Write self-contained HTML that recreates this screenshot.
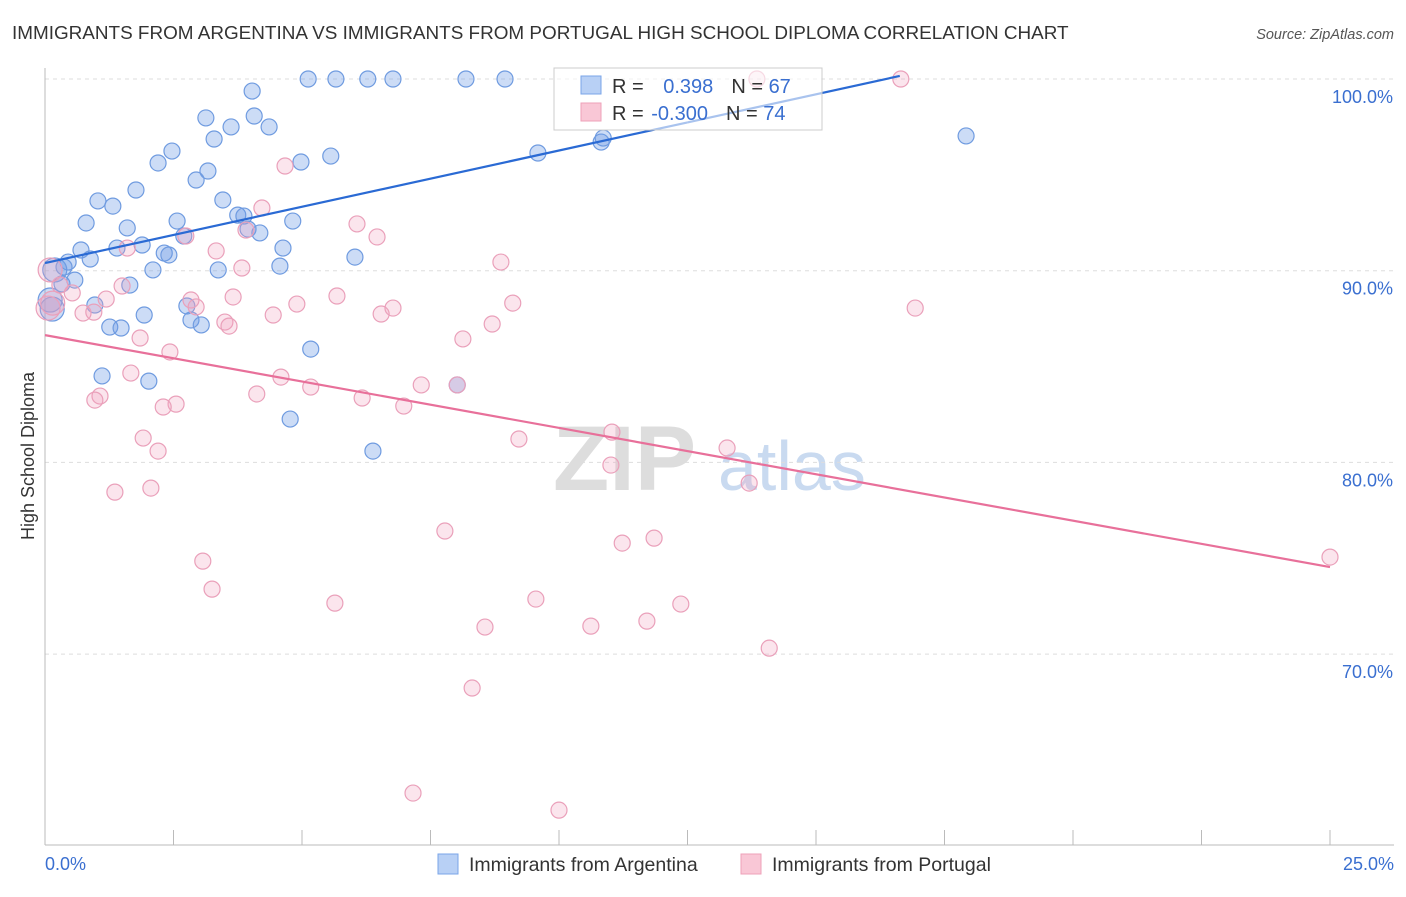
<!DOCTYPE html>
<html><head><meta charset="utf-8"><style>
body{margin:0;background:#fff;font-family:"Liberation Sans",sans-serif;}
svg text{font-family:"Liberation Sans",sans-serif;}
</style></head><body>
<svg width="1406" height="892" viewBox="0 0 1406 892" xmlns="http://www.w3.org/2000/svg" id="chart">
<text x="12" y="39" font-size="18.9" fill="#333">IMMIGRANTS FROM ARGENTINA VS IMMIGRANTS FROM PORTUGAL HIGH SCHOOL DIPLOMA CORRELATION CHART</text>
<text x="1394" y="39" font-size="14.5" fill="#555" text-anchor="end" font-style="italic">Source: ZipAtlas.com</text>
<text transform="translate(34,456) rotate(-90)" font-size="18" fill="#333" text-anchor="middle">High School Diploma</text>
<g><text x="553" y="490" font-size="92" fill="#ddd" font-family="Liberation Serif" font-weight="bold">ZIP</text><text x="718" y="490" font-size="70" fill="#c9daf0">atlas</text></g>
<g id="grid"></g><g id="marks"></g><g id="lines"></g>
<g>
<rect x="554" y="68" width="268" height="62" fill="#fff" fill-opacity="0.6" stroke="#ccc"/>
<rect x="581" y="76" width="20" height="18" fill="#b8d0f5" stroke="#7aa5e8"/>
<rect x="581" y="103" width="20" height="18" fill="#f9c7d6" stroke="#eea0b8"/>
<text x="612" y="93" font-size="20" fill="#333">R = <tspan fill="#3a6fd0" dx="14">0.398</tspan><tspan dx="18" fill="#333">N = </tspan><tspan fill="#3a6fd0">67</tspan></text>
<text x="612" y="120" font-size="20" fill="#333">R = <tspan fill="#3a6fd0" dx="2">-0.300</tspan><tspan dx="18" fill="#333">N = </tspan><tspan fill="#3a6fd0">74</tspan></text>
</g>
<g>
<rect x="438" y="854" width="20" height="20" fill="#b8d0f5" stroke="#7aa5e8"/>
<text x="469" y="871" font-size="19.5" fill="#333">Immigrants from Argentina</text>
<rect x="741" y="854" width="20" height="20" fill="#f9c7d6" stroke="#eea0b8"/>
<text x="772" y="871" font-size="19.5" fill="#333">Immigrants from Portugal</text>
</g>
</svg>
<script>
const yTicks=[100,90,80,70];
const yTickLabels=["100.0%","90.0%","80.0%","70.0%"];
const xTickLabels=["0.0%","25.0%"];
const argX=[4.03,5.12,5.66,6.28,6.77,8.19,8.95,3.13,4.07,3.62,4.36,3.29,2.47,2.20,4.98,5.56,3.17,2.94,1.77,1.03,1.32,3.46,3.75,3.87,2.57,4.82,0.80,1.60,3.95,4.18,2.70,1.89,1.40,0.70,2.32,2.41,4.63,6.03,0.88,0.45,0.19,0.37,2.10,3.37,4.57,0.58,1.65,0.33,0.97,2.76,1.93,2.84,3.04,1.26,1.48,5.17,1.11,2.02,8.02,4.77,6.38,9.59,10.82,10.86,17.92,0.10,0.14];
const argY=[99.37,100,100,100,100,100,100,97.97,98.07,97.5,97.5,96.87,96.24,95.62,95.67,95.98,95.2,94.73,94.21,93.64,93.37,93.69,92.9,92.85,92.59,92.59,92.49,92.23,92.17,91.97,91.81,91.34,91.18,91.08,90.92,90.82,91.18,90.71,90.61,90.45,90.04,90.19,90.04,90.04,90.24,89.51,89.25,89.31,88.21,88.16,87.69,87.43,87.17,87.06,87.01,85.91,84.51,84.24,84.04,82.26,80.59,96.14,96.71,96.92,97.03,88.47,88.0];
const porX=[13.85,16.65,4.67,4.22,6.07,6.46,3.91,2.74,3.33,3.83,1.60,8.87,0.10,0.29,1.50,0.53,1.19,3.66,5.68,9.10,4.90,2.84,2.94,6.77,6.54,0.74,0.95,4.44,3.50,3.58,8.70,16.93,8.13,1.85,2.43,4.59,1.67,5.17,7.32,8.02,4.12,6.17,1.07,0.97,6.98,2.55,2.30,1.91,2.20,9.22,11.03,13.27,11.01,13.70,1.36,2.06,7.78,11.23,11.85,3.07,3.25,5.64,9.55,12.37,8.56,10.62,11.71,14.09,8.31,7.16,10.00,25.0,0.06,0.15];
const porY=[100,100,95.46,93.27,92.44,91.76,92.12,91.81,91.03,90.14,91.18,90.45,90.04,89.25,89.2,88.84,88.52,88.63,88.68,88.31,88.26,88.47,88.11,88.05,87.74,87.79,87.84,87.69,87.32,87.11,87.22,88.05,86.44,86.49,85.76,84.45,84.66,83.93,84.04,84.04,83.57,83.36,83.46,83.25,82.94,83.04,82.89,81.27,80.59,81.22,81.58,80.75,79.86,78.92,78.45,78.66,76.42,75.79,76.05,74.85,73.39,72.66,72.87,72.61,71.41,71.46,71.72,70.31,68.23,62.75,61.86,75.06,88.05,88.31];
const argTrend=[[0,90.40],[16.63,100.16]];
const porTrend=[[0,86.64],[25,74.54]];
const X=v=>45+v/25*1285, Y=v=>79+(100-v)*19.17;
const NS="http://www.w3.org/2000/svg";
function mk(t,a,p){const e=document.createElementNS(NS,t);for(const k in a)e.setAttribute(k,a[k]);p.appendChild(e);return e;}
const grid=document.getElementById('grid'),marks=document.getElementById('marks'),lines=document.getElementById('lines');
yTicks.forEach((t,i)=>{
 const l=mk('line',{x1:45,x2:1394,y1:Y(t),y2:Y(t),stroke:'#ddd','stroke-dasharray':'4,4'},grid);
 
 
 const tx=mk('text',{x:1393,y:Y(t)+24,'font-size':18,fill:'#3a6fd0','text-anchor':'end'},grid);tx.textContent=yTickLabels[i];
 
 
});
const ax=mk('line',{x1:45,x2:45,y1:68,y2:845,stroke:'#bbb'},grid);


const bx=mk('line',{x1:45,x2:1394,y1:845,y2:845,stroke:'#bbb'},grid);


for(let i=0;i<=10;i++){const t=mk('line',{x1:X(i*2.5),x2:X(i*2.5),y1:830,y2:845,stroke:'#bbb'},grid);
 
 }
[[0,'start',45],[25,'end',1394]].forEach((d,i)=>{const t=mk('text',{x:d[2],y:870,'font-size':18,fill:'#3a6fd0','text-anchor':d[1]},grid);t.textContent=xTickLabels[i];
 
 });
function pts(xs,ys,fill,stroke,name){xs.forEach((x,i)=>{const big=x<0.2;const c=mk('circle',{cx:X(x),cy:Y(ys[i]),r:big?12:8,fill:fill,stroke:stroke,'stroke-width':1.2},marks);
 
 });}
pts(argX,argY,'rgba(110,155,230,0.35)','#6f9be0','argentina-point');
pts(porX,porY,'rgba(240,160,190,0.28)','#eaa0ba','portugal-point');
const a=argTrend,p=porTrend;
const split=12.5, sy=a[0][1]+(a[1][1]-a[0][1])*split/a[1][0];
const l1=mk('line',{x1:X(a[0][0]),y1:Y(a[0][1]),x2:X(split),y2:Y(sy),stroke:'#2a6ad4','stroke-width':2.2},lines);


const l2=mk('line',{x1:X(split),y1:Y(sy),x2:X(a[1][0]),y2:Y(a[1][1]),stroke:'#2a6ad4','stroke-width':2.2},lines);


const l3=mk('line',{x1:X(p[0][0]),y1:Y(p[0][1]),x2:X(p[1][0]),y2:Y(p[1][1]),stroke:'#e8709a','stroke-width':2.2},lines);


</script>
</body></html>
